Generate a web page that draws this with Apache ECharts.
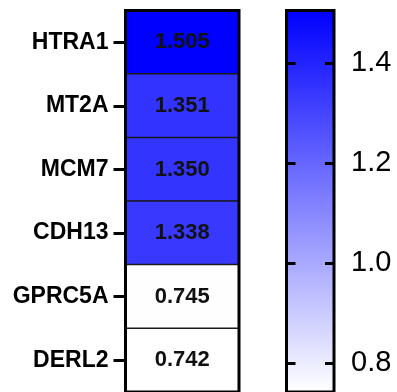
<!DOCTYPE html>
<html>
<head>
<meta charset="utf-8">
<script src="https://cdn.jsdelivr.net/npm/echarts@6/dist/echarts.min.js"></script>
<style>html,body{margin:0;padding:0;background:#fff}#c{width:397px;height:392px}</style>
</head>
<body>
<div id="c"></div>
<script>
var genes = ['HTRA1', 'MT2A', 'MCM7', 'CDH13', 'GPRC5A', 'DERL2'];
var values = [1.505, 1.351, 1.350, 1.338, 0.745, 0.742];
var colorMin = 0.742;
var colorMax = 1.505;
var colorTicks = [0.8, 1.0, 1.2, 1.4];

var heatData = genes.map(function (g, i) { return [0, i, values[i]]; });
var font = 'Liberation Sans, Arial, sans-serif';

var chart = echarts.init(document.getElementById('c'), null, {renderer: 'canvas'});
chart.setOption({
  animation: false,
  backgroundColor: '#fff',
  grid: [
    {left: 125.5, width: 113.5, top: 10.5, height: 384, show: true, borderColor: '#000', borderWidth: 3, backgroundColor: 'transparent', z: 10},
    {left: 286.5, width: 47.5, top: 10.5, height: 384, show: true, borderColor: '#000', borderWidth: 3, backgroundColor: 'transparent', z: 10}
  ],
  xAxis: [
    {type: 'category', gridIndex: 0, data: ['v'], show: false},
    {type: 'value', gridIndex: 1, min: 0, max: 1, show: false}
  ],
  yAxis: [
    {type: 'category', gridIndex: 0, data: genes, inverse: true, z: 10,
      axisLine: {show: false},
      axisTick: {show: true, alignWithLabel: true, length: 12, lineStyle: {color: '#000', width: 3}},
      axisLabel: {margin: 17, color: '#000', fontWeight: 'bold', fontSize: 23, fontFamily: font},
      splitLine: {show: false}},
    {type: 'value', gridIndex: 1, position: 'left', min: colorMin, max: colorMax, z: 10,
      axisLine: {show: false},
      axisTick: {show: true, inside: true, length: 9, customValues: colorTicks, lineStyle: {color: '#000', width: 3}},
      axisLabel: {show: false, customValues: colorTicks},
      splitLine: {show: false}},
    {type: 'value', gridIndex: 1, position: 'right', min: colorMin, max: colorMax, z: 10,
      axisLine: {show: false},
      axisTick: {show: true, inside: true, length: 9, customValues: colorTicks, lineStyle: {color: '#000', width: 3}},
      axisLabel: {show: true, margin: 17, customValues: colorTicks, color: '#000', fontSize: 29, fontFamily: font,
        formatter: function (v) { return v.toFixed(1); }},
      splitLine: {show: false}}
  ],
  visualMap: {
    show: false, type: 'continuous', min: colorMin, max: colorMax, seriesIndex: 0, dimension: 2,
    inRange: {color: ['#ffffff', '#0000ff']}
  },
  series: [
    {type: 'heatmap', xAxisIndex: 0, yAxisIndex: 0, data: heatData, z: 2,
      itemStyle: {borderColor: '#1a1a1a', borderWidth: 1.5},
      label: {show: true, color: '#111', fontWeight: 'bold', fontSize: 22, fontFamily: font,
        formatter: function (p) { return p.value[2].toFixed(3); }},
      emphasis: {disabled: true}
    },
    {type: 'custom', xAxisIndex: 1, yAxisIndex: 1, silent: true, z: 1,
      data: [[0, 1, colorMin, colorMax]],
      renderItem: function (params, api) {
        var p0 = api.coord([api.value(0), api.value(3)]);
        var p1 = api.coord([api.value(1), api.value(2)]);
        return {
          type: 'rect',
          shape: {x: p0[0], y: p0[1], width: p1[0] - p0[0], height: p1[1] - p0[1]},
          style: {fill: new echarts.graphic.LinearGradient(0, 0, 0, 1, [
            {offset: 0, color: '#0000ff'}, {offset: 1, color: '#ffffff'}])}
        };
      }
    }
  ]
});
</script>
</body>
</html>
